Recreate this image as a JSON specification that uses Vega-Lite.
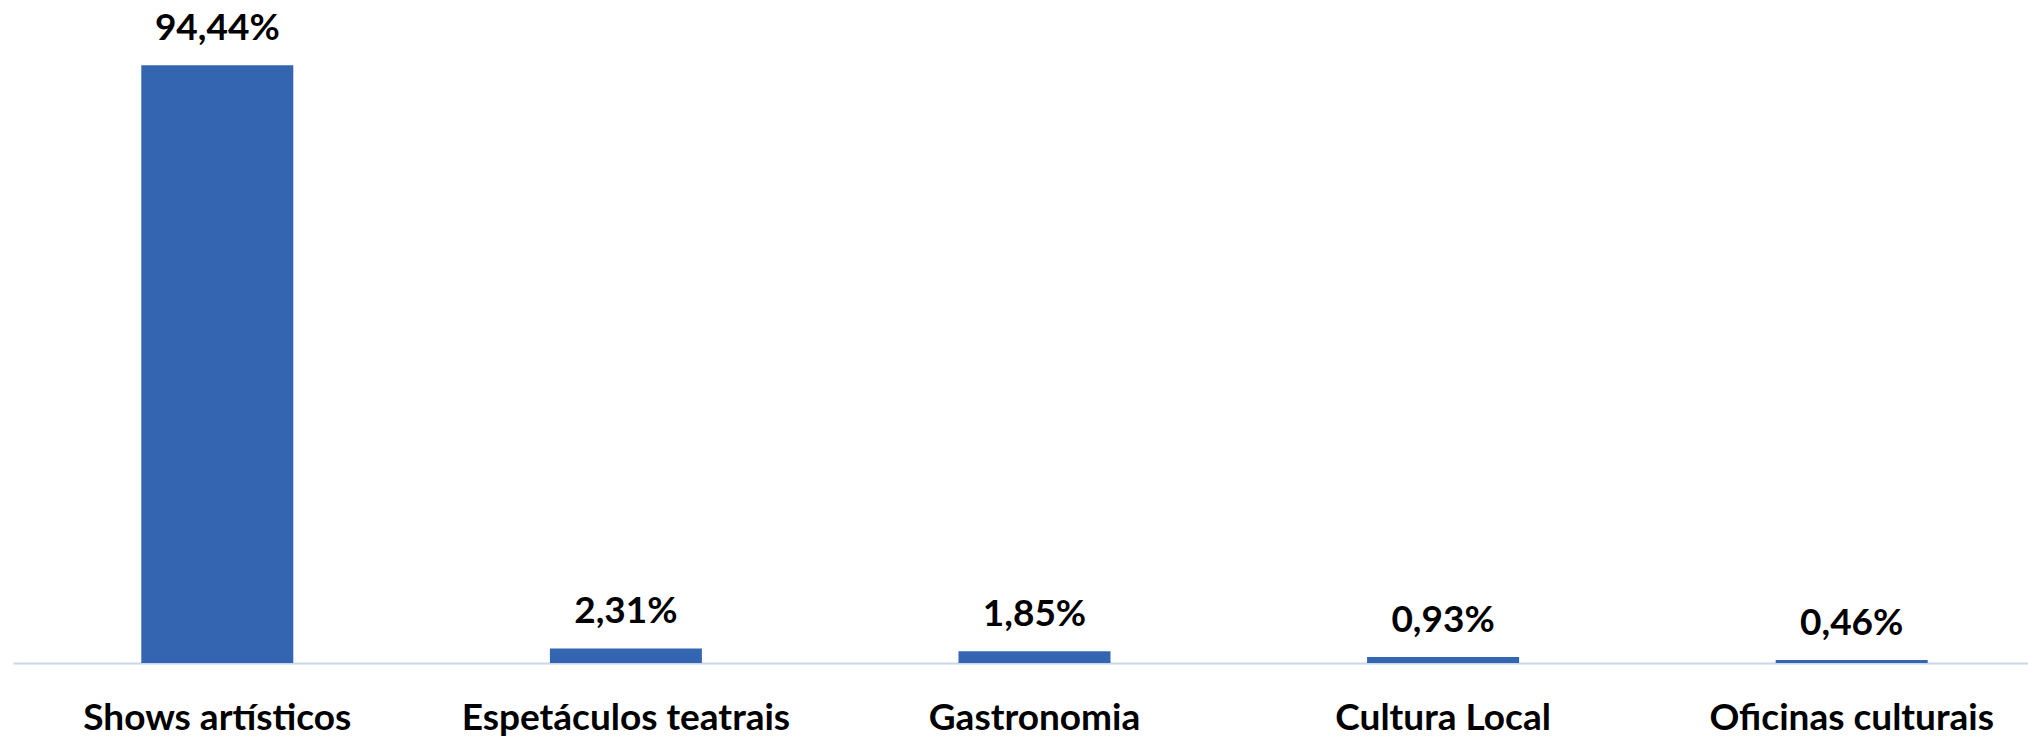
{
  "$schema": "https://vega.github.io/schema/vega-lite/v6.json",
  "width": 2015,
  "height": 633,
  "autosize": "none",
  "padding": {"left": 13, "top": 30, "right": 0, "bottom": 77},
  "background": "white",
  "config": {"view": {"stroke": null}},
  "data": {
    "values": [
      {"categoria": "Shows artísticos", "valor": 94.44, "rotulo": "94,44%"},
      {"categoria": "Espetáculos teatrais", "valor": 2.31, "rotulo": "2,31%"},
      {"categoria": "Gastronomia", "valor": 1.85, "rotulo": "1,85%"},
      {"categoria": "Cultura Local", "valor": 0.93, "rotulo": "0,93%"},
      {"categoria": "Oficinas culturais", "valor": 0.46, "rotulo": "0,46%"}
    ]
  },
  "encoding": {
    "x": {
      "field": "categoria",
      "type": "nominal",
      "sort": null,
      "scale": {"range": [0, 2043], "paddingInner": 0.628, "paddingOuter": 0.314},
      "axis": {
        "title": null,
        "labelAngle": 0,
        "ticks": false,
        "domainColor": "#C9D6EE",
        "domainWidth": 2,
        "labelFont": "Lato",
        "labelFontWeight": "bold",
        "labelFontSize": 37,
        "labelColor": "#000000",
        "labelPadding": 55,
        "labelBaseline": "middle",
        "labelLimit": 600,
        "labelOverlap": false,
        "labelBound": false
      }
    },
    "y": {
      "field": "valor",
      "type": "quantitative",
      "scale": {"domain": [0, 100]},
      "axis": null
    }
  },
  "layer": [
    {"mark": {"type": "bar", "color": "#3465B0"}},
    {
      "mark": {
        "type": "text",
        "font": "Lato",
        "fontWeight": "bold",
        "fontSize": 37,
        "color": "#000000",
        "baseline": "middle",
        "dy": -36
      },
      "encoding": {"text": {"field": "rotulo"}}
    }
  ]
}
